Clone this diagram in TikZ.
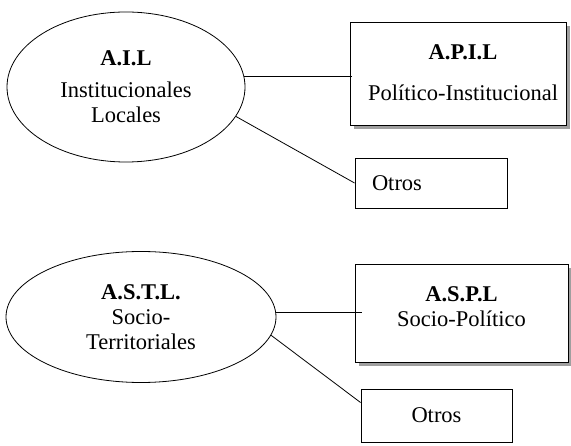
\documentclass[tikz,border=0pt]{standalone}
\usepackage{fontspec}
\setmainfont{Liberation Serif}
\usetikzlibrary{shapes.geometric,shadows,calc}
\begin{document}
\begin{tikzpicture}[x=1pt,y=-1pt,
  every node/.style={font=\fontsize{22.5}{25}\selectfont},
  oval/.style={draw, ellipse, line width=0.8pt, inner sep=0pt, align=center},
  bigbox/.style={draw, line width=0.9pt, fill=white, inner sep=0pt, align=center,
    drop shadow={shadow xshift=4pt, shadow yshift=-4pt, fill=gray!75, opacity=1}},
  smallbox/.style={draw, line width=0.9pt, inner sep=0pt},
  conn/.style={line width=0.8pt}]
\useasboundingbox (0,0) rectangle (571,446);

% top group
\node[oval, minimum width=238pt, minimum height=150pt] (ail) at (126,87)
  {\textbf{A.I.L}\\[7pt]Institucionales\\Locales};
\node[bigbox, minimum width=216pt, minimum height=103pt] (apil) at (458,73.5) {};
\node[align=center, inner sep=0pt] (apilt) at (463,73)
  {\textbf{A.P.I.L}\\[16pt]Político-Institucional};
\node[smallbox, minimum width=152pt, minimum height=50pt, inner xsep=17pt,
  text width=118pt, align=left] (otros1) at (431,183) {Otros};

% bottom group
\node[oval, minimum width=270pt, minimum height=131pt] (astl) at (141,317)
  {\textbf{A.S.T.L.}\\Socio-\\Territoriales};
\node[bigbox, minimum width=213pt, minimum height=98pt] (aspl) at (461.5,313) {};
\node[align=center, inner sep=0pt] (asplt) at (461.5,307)
  {\textbf{A.S.P.L}\\Socio-Político};
\node[smallbox, minimum width=151pt, minimum height=53pt] (otros2) at (436.5,415.5) {Otros};

% connectors
\draw[conn] (ail.5.8) -- ($(ail.5.8 -| apil.west)+(2,0)$);
\draw[conn] (ail.-15.7) -- (otros1.west);
\draw[conn] (astl.2.6) -- ($(astl.2.6 -| aspl.west)+(7,0)$);
\draw[conn] (astl.-8.7) -- ($(otros2.west)+(0,-13)$);
\end{tikzpicture}
\end{document}
